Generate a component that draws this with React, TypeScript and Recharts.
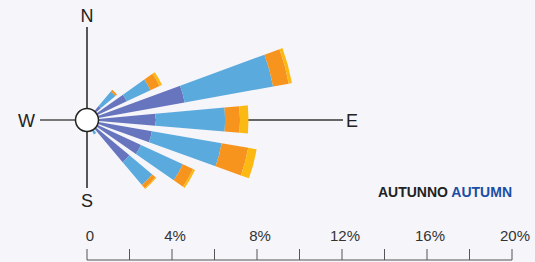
import React from "react";
import {
  RadialBarChart,
  RadialBar,
  PolarAngleAxis,
  PolarRadiusAxis,
  ComposedChart,
  XAxis,
} from "recharts";

// 24 sectors of 15°, bearings clockwise from north
const directions = [
  "0", "15", "30", "45", "60", "75", "90", "105", "120", "135", "150", "165",
  "180", "195", "210", "225", "240", "255", "270", "285", "300", "315", "330", "345",
];

// frequency (%) per speed class, stacked from the centre outwards
const speed1 = [0, 0, 0, 0.85, 2.07, 4.67, 3.23, 3.1, 2.8, 2.6, 0.5, 0, 0, 0, 0, 0, 0, 0, 0, 0, 0, 0, 0, 0];
const speed2 = [0, 0, 0, 0.9, 1.23, 4.23, 3.27, 3.33, 2.17, 1.4, 0.25, 0, 0, 0, 0, 0, 0, 0, 0, 0, 0, 0, 0, 0];
const speed3 = [0, 0, 0, 0.1, 0.47, 0.75, 0.7, 1.27, 0.53, 0.2, 0, 0, 0, 0, 0, 0, 0, 0, 0, 0, 0, 0, 0, 0];
const speed4 = [0, 0, 0, 0, 0.13, 0.15, 0.4, 0.4, 0.1, 0.05, 0, 0, 0, 0, 0, 0, 0, 0, 0, 0, 0, 0, 0, 0];

const scaleTicks = [0, 2, 4, 6, 8, 10, 12, 14, 16, 18, 20];

const COLORS = ["#6675bd", "#5aaade", "#f7941e", "#fdb913"];

const data = directions.map((dir, i) => ({
  dir,
  s1: speed1[i],
  s2: speed2[i],
  s3: speed3[i],
  s4: speed4[i],
}));

const CX = 87;
const CY = 120;
const FONT = "'Liberation Sans', Arial, sans-serif";

export default function App() {
  return (
    <div
      style={{
        position: "absolute",
        left: 0,
        top: 0,
        width: 535,
        height: 262,
        background: "#f5f5fa",
        fontFamily: FONT,
        overflow: "hidden",
      }}
    >
      {/* compass cross, behind the petals */}
      <svg width={535} height={262} style={{ position: "absolute", left: 0, top: 0 }}>
        <line x1={CX} y1={27} x2={CX} y2={188} stroke="#222" strokeWidth={1.5} />
        <line x1={40} y1={CY} x2={CX} y2={CY} stroke="#777" strokeWidth={2} />
        <line x1={CX} y1={CY} x2={343} y2={CY} stroke="#666" strokeWidth={2} />
        <g fontSize={18} fill="#222" textAnchor="middle">
          <text x={CX} y={21.5}>N</text>
          <text x={CX} y={206.5}>S</text>
          <text x={26.5} y={126.5}>W</text>
          <text x={352} y={126.5}>E</text>
        </g>
        <text x={512} y={196.5} fontSize={14} fontWeight="bold" textAnchor="end">
          <tspan fill="#222">AUTUNNO </tspan>
          <tspan fill="#1c4ea2">AUTUMN</tspan>
        </text>
      </svg>

      <div style={{ position: "absolute", left: 0, top: 0 }}>
        <RadialBarChart
          width={535}
          height={262}
          cx={CX}
          cy={CY}
          innerRadius={0}
          outerRadius={425}
          startAngle={82.5}
          endAngle={-277.5}
          layout="centric"
          data={data}
          barCategoryGap="18%"
          margin={{ top: 0, right: 0, bottom: 0, left: 0 }}
        >
          <PolarAngleAxis type="category" dataKey="dir" tick={false} axisLine={false} />
          <PolarRadiusAxis type="number" domain={[0, 20]} tick={false} axisLine={false} />
          {["s1", "s2", "s3", "s4"].map((k, i) => (
            <RadialBar
              key={k}
              dataKey={k}
              stackId="rose"
              fill={COLORS[i]}
              isAnimationActive={false}
            />
          ))}
        </RadialBarChart>
      </div>

      {/* centre disc on top */}
      <svg width={535} height={262} style={{ position: "absolute", left: 0, top: 0, pointerEvents: "none" }}>
        <circle cx={CX} cy={CY} r={11.5} fill="#fff" stroke="#222" strokeWidth={1.5} />
      </svg>

      {/* percentage scale */}
      <div style={{ position: "absolute", left: 0, top: 200 }}>
        <ComposedChart
          width={535}
          height={62}
          data={scaleTicks.map((v) => ({ v }))}
          margin={{ top: 0, right: 23, bottom: 0, left: 87 }}
        >
          <XAxis
            xAxisId={0}
            type="number"
            dataKey="v"
            orientation="top"
            domain={[0, 20]}
            ticks={scaleTicks}
            height={60}
            tickSize={11}
            tickMargin={8}
            stroke="#555"
            tickFormatter={(v: number) => (v % 4 ? "" : v === 0 ? "0" : `${v}%`)}
            tick={{ fill: "#333", fontSize: 15, fontFamily: FONT, dx: 3 }}
          />
        </ComposedChart>
      </div>
    </div>
  );
}
